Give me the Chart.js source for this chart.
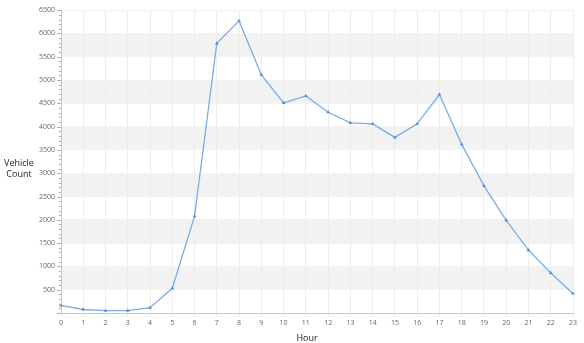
<!DOCTYPE html>
<html>
<head>
<meta charset="utf-8">
<script src="https://cdn.jsdelivr.net/npm/chart.js@4/dist/chart.umd.min.js"></script>
<style>
html,body{margin:0;padding:0;background:#fff;}
#wrap{position:relative;width:584px;height:343px;}
</style>
</head>
<body>
<div id="wrap"><canvas id="c" width="584" height="343"></canvas></div>
<script>
const hours = ["0","1","2","3","4","5","6","7","8","9","10","11","12","13","14","15","16","17","18","19","20","21","22","23"];
const vehicleCounts = [165, 75, 50, 50, 115, 530, 2080, 5790, 6270, 5110, 4510, 4660, 4310, 4080, 4060, 3770, 4060, 4690, 3620, 2730, 1990, 1350, 860, 420];
const yAxisTitle = ["Vehicle", "Count"];
const xAxisTitle = "Hour";

const bandsPlugin = {
  id: 'bands',
  beforeDraw(chart) {
    const {ctx, chartArea, scales: {y}} = chart;
    ctx.save();
    ctx.fillStyle = '#f2f2f2';
    for (let v = 500; v < 6500; v += 1000) {
      const top = y.getPixelForValue(v + 500);
      const bot = y.getPixelForValue(v);
      ctx.fillRect(chartArea.left, top, chartArea.right - chartArea.left, bot - top);
    }
    ctx.restore();
  },
  afterDraw(chart) {
    const {ctx, chartArea, scales: {y}} = chart;
    ctx.save();
    ctx.strokeStyle = '#b0b0b0';
    ctx.lineWidth = 1;
    for (let v = 0; v <= 6500; v += 100) {
      const py = Math.round(y.getPixelForValue(v)) + 0.5;
      const len = (v % 500 === 0) ? 4 : 2;
      ctx.beginPath();
      ctx.moveTo(chartArea.left - len, py);
      ctx.lineTo(chartArea.left, py);
      ctx.stroke();
    }
    ctx.fillStyle = '#222';
    ctx.font = '9px "Open Sans"';
    ctx.textAlign = 'center';
    ctx.textBaseline = 'middle';
    ctx.fillText(yAxisTitle[0], 19, 163);
    ctx.fillText(yAxisTitle[1], 19, 174);
    ctx.fillText(xAxisTitle, 307, 338);
    ctx.restore();
  }
};

new Chart(document.getElementById('c'), {
  type: 'line',
  data: {
    labels: hours,
    datasets: [{
      data: vehicleCounts,
      borderColor: '#78aee8',
      borderWidth: 1.3,
      backgroundColor: '#5a8fd6',
      pointBackgroundColor: '#5a8fd6',
      pointBorderColor: '#5a8fd6',
      pointStyle: 'triangle',
      pointRadius: 2.2,
      pointBorderWidth: 0,
      tension: 0,
      fill: false
    }]
  },
  options: {
    responsive: false,
    animation: false,
    devicePixelRatio: 1,
    layout: {padding: {top: 10, right: 11, left: 0, bottom: 0}},
    plugins: {legend: {display: false}, tooltip: {enabled: false}},
    scales: {
      x: {
        offset: false,
        grid: {color: '#ececec', drawTicks: true, tickLength: 4, tickColor: '#ececec'},
        border: {color: '#c8c8c8'},
        ticks: {font: {family: 'Open Sans', size: 7}, color: '#666', maxRotation: 0, autoSkip: false, padding: 2},
        afterFit(scale) { scale.height = 30; }
      },
      y: {
        min: 0,
        max: 6500,
        grid: {color: '#f4f4f4', drawTicks: false},
        border: {color: '#c8c8c8'},
        ticks: {
          stepSize: 500,
          font: {family: 'Open Sans', size: 7},
          color: '#666',
          padding: 6,
          callback: (v) => v === 0 ? '' : String(v)
        },
        afterFit(scale) { scale.width = 61; }
      }
    }
  },
  plugins: [bandsPlugin]
});
</script>
</body>
</html>
